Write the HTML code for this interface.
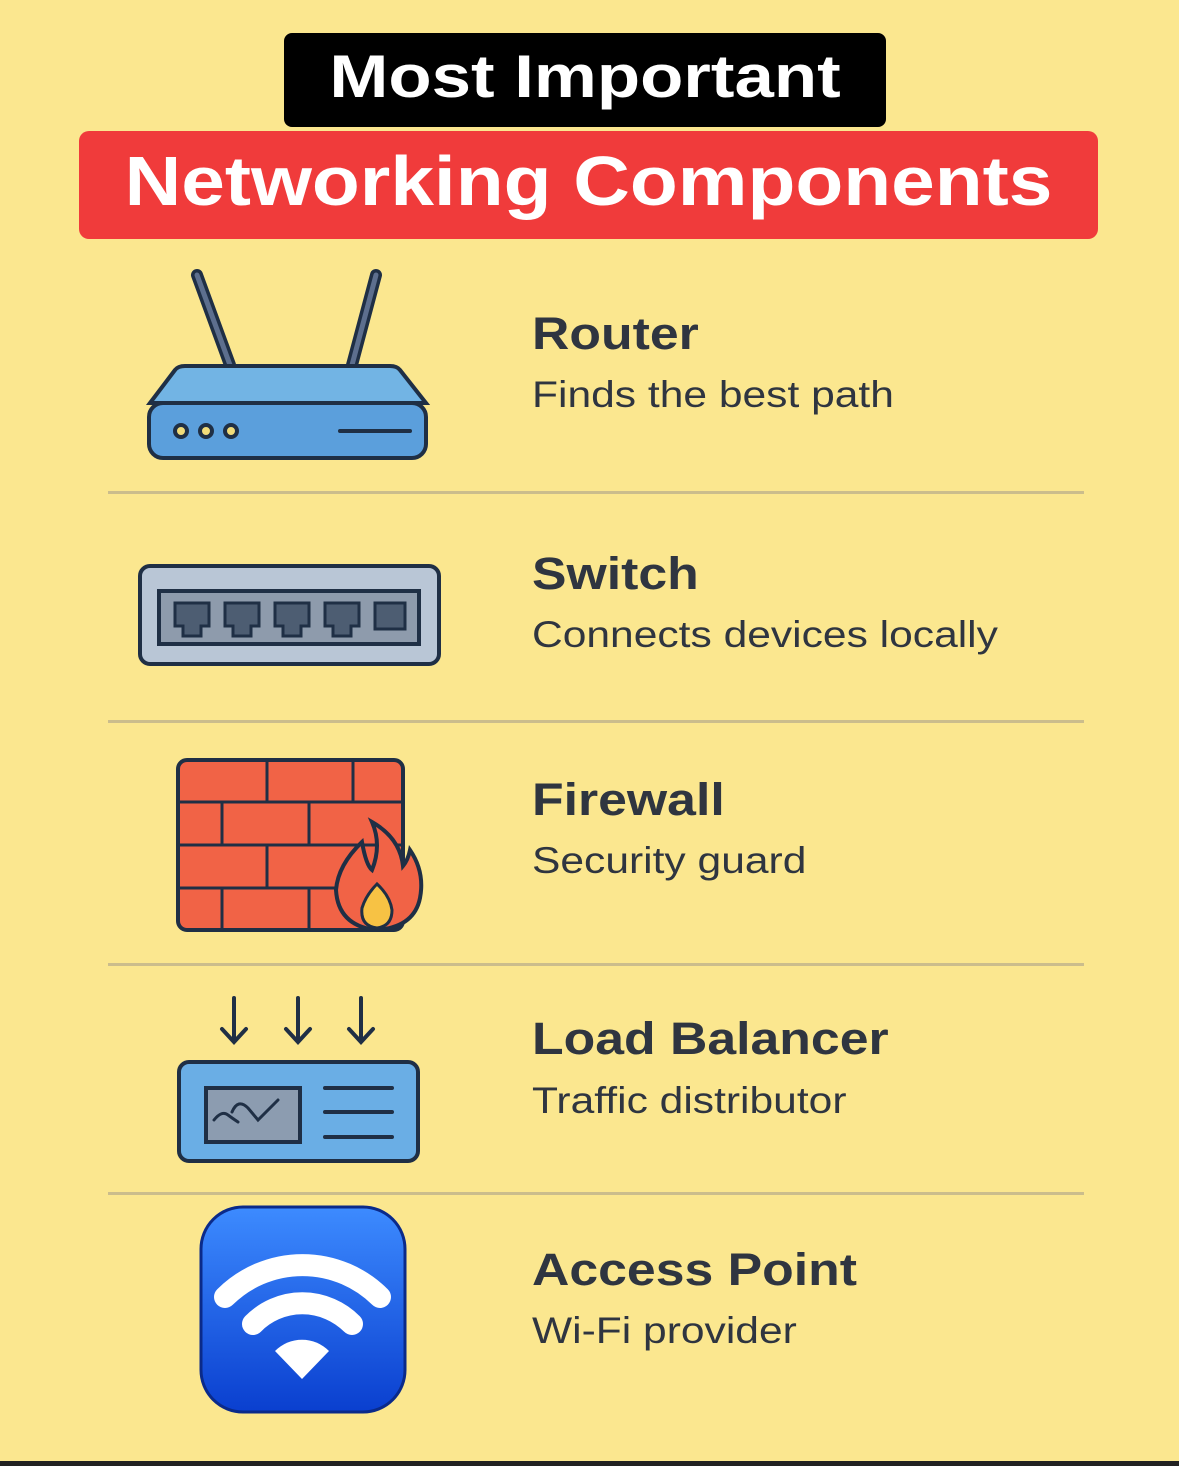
<!DOCTYPE html>
<html><head><meta charset="utf-8"><style>
body{margin:0;width:1179px;height:1466px;background:#fbe78f;position:relative;overflow:hidden;font-family:"Liberation Sans",sans-serif}
.t{position:absolute;left:532px;color:#2f3540;font-weight:bold;font-size:45px;transform:scaleX(1.15);transform-origin:left}
.s{position:absolute;left:532px;color:#2f3540;font-size:37px;transform:scaleX(1.15);transform-origin:left}
.hr{position:absolute;left:108px;width:976px;height:3px;background:#cbbd8c}
</style></head><body>
<div style="position:absolute;left:284px;top:33px;width:602px;height:94px;background:#000;border-radius:8px"></div>
<div style="position:absolute;left:284px;top:33px;width:602px;height:94px;color:#fff;font-weight:bold;font-size:60px;text-align:center;line-height:88px;transform:scaleX(1.18)">Most Important</div>
<div style="position:absolute;left:79px;top:131px;width:1019px;height:108px;background:#f03b3b;border-radius:10px"></div>
<div style="position:absolute;left:79px;top:131px;width:1019px;height:108px;color:#fff;font-weight:bold;font-size:70px;text-align:center;line-height:100px;transform:scaleX(1.12)">Networking Components</div>
<div class="t" style="top:308px">Router</div><div class="s" style="top:374px">Finds the best path</div>
<div class="t" style="top:548px">Switch</div><div class="s" style="top:614px">Connects devices locally</div>
<div class="t" style="top:774px">Firewall</div><div class="s" style="top:840px">Security guard</div>
<div class="t" style="top:1013px">Load Balancer</div><div class="s" style="top:1080px">Traffic distributor</div>
<div class="t" style="top:1244px">Access Point</div><div class="s" style="top:1310px">Wi-Fi provider</div>
<div class="hr" style="top:491px"></div><div class="hr" style="top:720px"></div><div class="hr" style="top:963px"></div><div class="hr" style="top:1192px"></div>
<div style="position:absolute;left:0;top:1461px;width:1179px;height:5px;background:#222"></div>
<svg width="1179" height="1466" style="position:absolute;left:0;top:0">
<g stroke="#1f2f45" stroke-width="4" stroke-linecap="round">
<line x1="197" y1="275" x2="230" y2="365" stroke-width="12"/><line x1="197" y1="275" x2="230" y2="365" stroke="#5d6f8e" stroke-width="5"/>
<line x1="376" y1="275" x2="352" y2="365" stroke-width="12"/><line x1="376" y1="275" x2="352" y2="365" stroke="#5d6f8e" stroke-width="5"/>
<path d="M150 403 L175 370 Q178 366 185 366 L390 366 Q397 366 400 370 L426 403 Z" fill="#72b4e4"/>
<rect x="149" y="403" width="277" height="55" rx="14" fill="#5b9fdc"/>
<circle cx="181" cy="431" r="6" fill="#f1dc7a" stroke-width="4"/><circle cx="206" cy="431" r="6" fill="#f1dc7a" stroke-width="4"/><circle cx="231" cy="431" r="6" fill="#f1dc7a" stroke-width="4"/>
<line x1="340" y1="431" x2="410" y2="431"/>
<rect x="140" y="566" width="299" height="98" rx="10" fill="#b9c6d6"/>
<rect x="159" y="591" width="260" height="53" fill="#8e9bac"/>
<g fill="#4d5d72" stroke-width="3">
<path d="M175 603h34v23h-8v10h-18v-10h-8z"/><path d="M225 603h34v23h-8v10h-18v-10h-8z"/><path d="M275 603h34v23h-8v10h-18v-10h-8z"/><path d="M325 603h34v23h-8v10h-18v-10h-8z"/><rect x="375" y="603" width="30" height="26"/></g>
<rect x="178" y="760" width="225" height="170" rx="9" fill="#f16346"/>
<path d="M178 802H403M178 845H403M178 888H403M267 760V802M353 760V802M222 802V845M309 802V845M267 845V888M222 888V930M309 888V930" stroke-width="3"/>
<path d="M375 930 Q338 925 336 890 Q338 865 362 842 Q366 865 372 870 Q382 845 372 822 Q400 838 403 866 Q408 860 410 850 Q425 872 420 898 Q414 928 375 930Z" fill="#f16346"/>
<path d="M377 928 Q360 926 362 908 Q366 895 377 884 Q390 896 392 910 Q392 926 377 928Z" fill="#f7c244" stroke-width="3"/>
<g fill="none"><path d="M234 998V1040M222 1029L234 1042L246 1029M298 998V1040M286 1029L298 1042L310 1029M361 998V1040M349 1029L361 1042L373 1029"/></g>
<rect x="179" y="1062" width="239" height="99" rx="10" fill="#6aaee5"/>
<rect x="206" y="1088" width="94" height="54" fill="#8c9cb0"/>
<path d="M214 1120 Q222 1110 228 1115 Q232 1118 238 1122 M232 1112 Q238 1098 248 1108 L258 1120 L278 1100" fill="none" stroke-width="3"/>
<path d="M325 1088H392M325 1112H392M325 1137H392"/>
</g>
<defs><linearGradient id="g" x1="0" y1="0" x2="0" y2="1"><stop offset="0" stop-color="#3d8bff"/><stop offset="1" stop-color="#0a3fcf"/></linearGradient></defs>
<rect x="201" y="1207" width="204" height="205" rx="42" fill="url(#g)" stroke="#0a2a8a" stroke-width="3"/>
<g fill="none" stroke="#fff" stroke-width="22" stroke-linecap="round">
<path d="M225 1297 A110 110 0 0 1 380 1297"/><path d="M253 1324 A70 70 0 0 1 352 1324"/></g>
<path d="M302 1379 L275 1351 A38 38 0 0 1 329 1351 Z" fill="#fff"/>
</svg>
</body></html>
